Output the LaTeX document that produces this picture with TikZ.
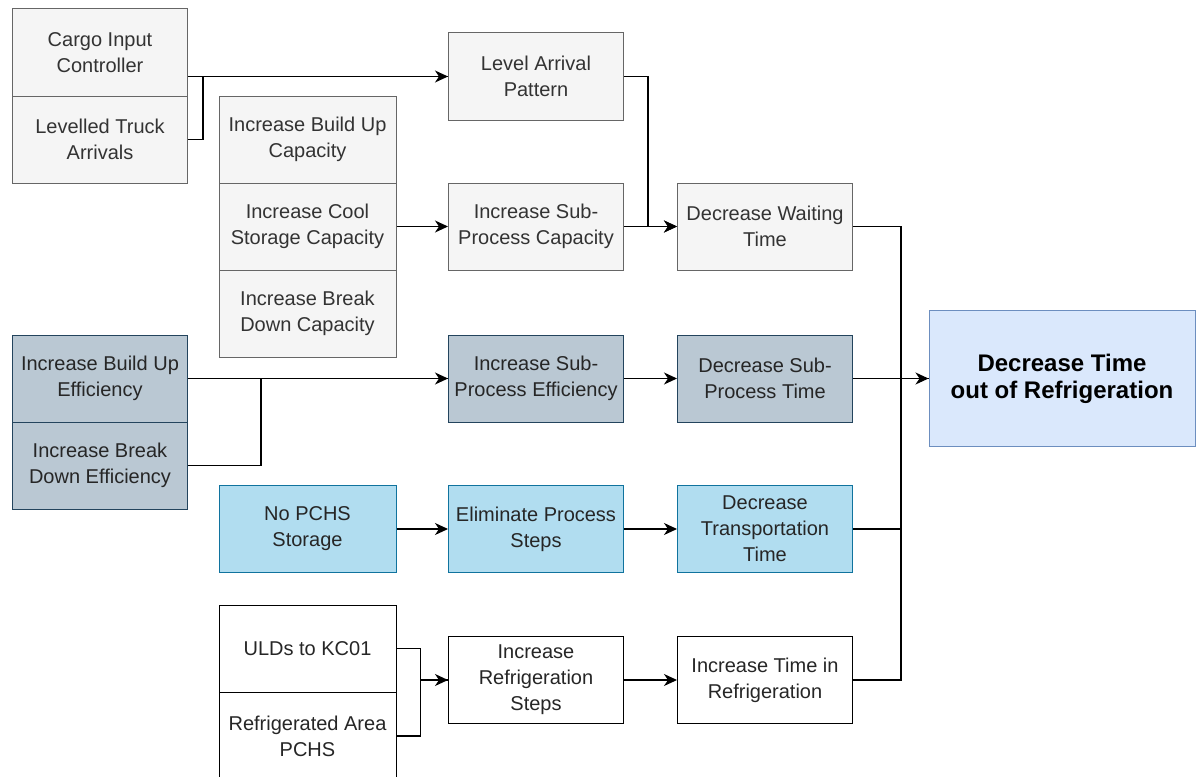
\documentclass[tikz,border=0pt]{standalone}
\usepackage{fontspec}
\setmainfont{Liberation Sans}
\usetikzlibrary{arrows.meta}
\definecolor{grayfill}{HTML}{F5F5F5}
\definecolor{graystroke}{HTML}{666666}
\definecolor{graytext}{HTML}{333333}
\definecolor{slatefill}{HTML}{BAC8D3}
\definecolor{slatestroke}{HTML}{23445D}
\definecolor{cyanfill}{HTML}{B1DDF0}
\definecolor{cyanstroke}{HTML}{10739E}
\definecolor{goalfill}{HTML}{DAE8FC}
\definecolor{goalstroke}{HTML}{6C8EBF}
\tikzset{
  box/.style={draw, line width=1pt, align=center, inner sep=0pt,
    minimum width=175pt, minimum height=87pt,
    font=\fontsize{20}{26}\selectfont},
  graybox/.style={box, fill=grayfill, draw=graystroke, text=graytext},
  slatebox/.style={box, fill=slatefill, draw=slatestroke, text=black!85},
  cyanbox/.style={box, fill=cyanfill, draw=cyanstroke, text=black!85},
  plainbox/.style={box, fill=white, draw=black, text=black!85},
  goalbox/.style={box, fill=goalfill, draw=goalstroke, text=black,
    minimum width=266pt, minimum height=136pt,
    font=\fontsize{24}{27}\selectfont\bfseries},
  link/.style={line width=1.2pt, black},
  arr/.style={link, -{Stealth[length=13pt,width=12pt,inset=4pt]}},
}
\begin{document}
\begin{tikzpicture}[x=1pt,y=-1pt]
\useasboundingbox (0,0) rectangle (1196,776);

% capacity branch
\node[graybox] (cic) at (100,52.5) {Cargo Input\\Controller};
\node[graybox] (lta) at (100,139.5) {Levelled Truck\\Arrivals};
\node[graybox, minimum width=177pt] (ibc) at (307.5,139.5) {Increase Build Up\\Capacity};
\node[graybox, minimum width=177pt] (icsc) at (307.5,226.5) {Increase Cool\\Storage Capacity};
\node[graybox, minimum width=177pt] (ibdc) at (307.5,313.5) {Increase Break\\Down Capacity};
\node[graybox] (lap) at (536,76.5) {Level Arrival\\Pattern};
\node[graybox] (ispc) at (536,226.5) {Increase Sub-\\Process Capacity};
\node[graybox] (dwt) at (765,226.5) {Decrease Waiting\\Time};

% efficiency branch
\node[slatebox] (ibue) at (100,378.5) {Increase Build Up\\Efficiency};
\node[slatebox] (ibde) at (100,465.5) {Increase Break\\Down Efficiency};
\node[slatebox] (ispe) at (536,378.5) {Increase Sub-\\Process Efficiency};
\node[slatebox] (dspt) at (765,378.5) {Decrease Sub-\\Process Time};

% transport branch
\node[cyanbox, minimum width=177pt] (nps) at (307.5,529) {No PCHS\\Storage};
\node[cyanbox] (eps) at (536,529) {Eliminate Process\\Steps};
\node[cyanbox] (dtt) at (765,529) {Decrease\\Transportation\\Time};

% refrigeration branch
\node[plainbox, minimum width=177pt] (uld) at (307.5,648.5) {ULDs to KC01};
\node[plainbox, minimum width=177pt, minimum height=88pt] (rap) at (307.5,736) {Refrigerated Area\\PCHS};
\node[plainbox] (irs) at (536,680) {Increase\\Refrigeration\\Steps};
\node[plainbox] (itr) at (765,680) {Increase Time in\\Refrigeration};

% goal
\node[goalbox] (goal) at (1062,378.5) {Decrease Time\\out of Refrigeration};

% connectors
\draw[arr] (lap.west -| cic.east) -- (lap.west);
\draw[link] (lta.east) -- ++(15,0) |- (lap.west);
\draw[arr] (lap.east) -- ++(24,0) |- (dwt.west);
\draw[arr] (icsc.east) -- (ispc.west);
\draw[arr] (ispc.east) -- (dwt.west);
\draw[arr] (ibue.east) -- (ispe.west);
\draw[link] (ibde.east) -- ++(73,0) |- (ispe.west);
\draw[arr] (ispe.east) -- (dspt.west);
\draw[arr] (nps.east) -- (eps.west);
\draw[arr] (eps.east) -- (dtt.west);
\draw[link] (uld.east) -- ++(24,0) |- (irs.west);
\draw[arr] (rap.east) -- ++(24,0) |- (irs.west);
\draw[arr] (irs.east) -- (itr.west);
\draw[link] (dwt.east) -- ++(48,0) |- (goal.west);
\draw[link] (dtt.east) -- ++(48,0) |- (goal.west);
\draw[link] (itr.east) -- ++(48,0) |- (goal.west);
\draw[arr] (dspt.east) -- (goal.west);
\end{tikzpicture}
\end{document}
